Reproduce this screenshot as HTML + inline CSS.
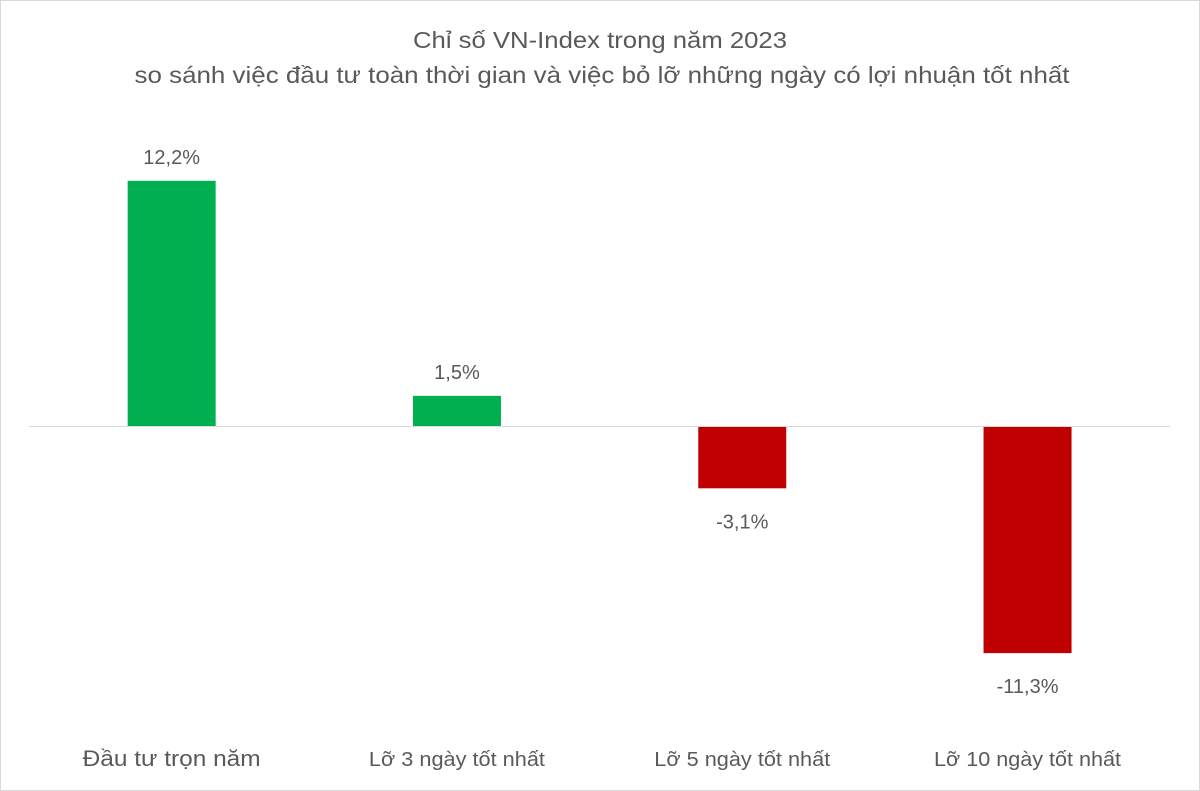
<!DOCTYPE html>
<html><head><meta charset="utf-8"><style>
html,body{margin:0;padding:0;background:#fff}
svg{display:block}
text{font-family:"Liberation Sans","DejaVu Sans",sans-serif;fill:#595959}
</style></head><body>
<svg width="1200" height="791">
<rect x="0.5" y="0.5" width="1199" height="790" fill="#fff" stroke="#d9d9d9"/>
<text x="600" y="48" font-size="23" text-anchor="middle" textLength="374" lengthAdjust="spacingAndGlyphs">Chỉ số VN-Index trong năm 2023</text>
<text x="602" y="83" font-size="23" text-anchor="middle" textLength="935" lengthAdjust="spacingAndGlyphs">so sánh việc đầu tư toàn thời gian và việc bỏ lỡ những ngày có lợi nhuận tốt nhất</text>
<g id="plot"></g>
</svg>
<script>
const categories=["Đầu tư trọn năm","Lỡ 3 ngày tốt nhất","Lỡ 5 ngày tốt nhất","Lỡ 10 ngày tốt nhất"];
const values=[12.2,1.5,-3.1,-11.3];
const labels=["12,2%","1,5%","-3,1%","-11,3%"];
const ns="http://www.w3.org/2000/svg";
const g=document.getElementById('plot');
const y0=426, scale=20.1, x0=29, band=285.3, bw=88;
const yPos=v=>y0-v*scale;
const xC=i=>x0+band*i+band/2;
function el(t,a){const e=document.createElementNS(ns,t);for(const k in a)e.setAttribute(k,a[k]);g.appendChild(e);return e;}
values.forEach((v,i)=>{
  const r=el('rect',{x:xC(i)-bw/2,y:Math.min(yPos(v),y0),width:bw,height:Math.abs(yPos(v)-y0),fill:v>=0?'#00b050':'#c00000'});
  
  
  const t=el('text',{x:xC(i),y:v>=0?yPos(v)-17:yPos(v)+40,'font-size':20,'text-anchor':'middle'});
  t.textContent=labels[i];
  
  
  const c=el('text',{x:xC(i),y:i==0?766:766,'font-size':i==0?22:20,'text-anchor':'middle',textLength:i==0?178:(i==3?187:176),lengthAdjust:'spacingAndGlyphs'});
  c.textContent=categories[i];
  
  
});
const ax=el('line',{x1:x0,x2:x0+band*4,y1:y0+0.5,y2:y0+0.5,stroke:'#d9d9d9','stroke-width':1});


</script>
</body></html>
